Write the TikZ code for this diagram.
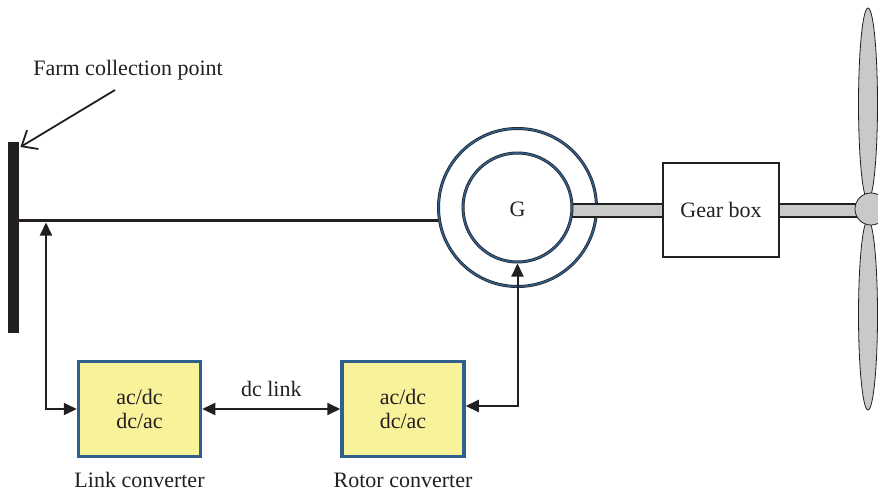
\documentclass[tikz,border=0pt]{standalone}
\usepackage{fontspec}
\setmainfont{Liberation Serif}
\usetikzlibrary{arrows.meta,shapes.geometric}
\definecolor{ink}{HTML}{231F20}
\definecolor{ringblue}{HTML}{2F5F8C}
\definecolor{convfill}{HTML}{F8F29B}
\definecolor{steel}{HTML}{C8C9CB}
\tikzset{
  lbl/.style={font=\fontsize{22}{24}\selectfont, text=ink},
  ring/.style={circle, draw=ink, line width=3pt, inner sep=0pt},
  ringcore/.style={draw=ringblue, line width=1.6pt},
  conv/.style={rectangle, draw=ringblue, line width=3.5pt, fill=convfill,
    minimum width=122pt, minimum height=95pt, align=center, lbl,
    font=\fontsize{22}{24}\selectfont},
  shaft/.style={draw=ink, line width=1.4pt, fill=steel},
  blade/.style={ellipse, draw=ink, line width=0.8pt, fill=steel, inner sep=0pt},
  link/.style={draw=ink, line width=2pt,
    {Triangle[length=13pt,width=12pt]}-{Triangle[length=13pt,width=12pt]}},
}
\begin{document}
\begin{tikzpicture}[x=1pt,y=-1pt]
  \useasboundingbox (0,0) rectangle (878,491);

  % collection busbar
  \node[fill=ink, minimum width=11pt, minimum height=191pt, inner sep=0pt,
        anchor=north west] (bus) at (8,142) {};

  % generator: stator ring
  \node[ring, minimum size=158pt] (genout) at (517.5,207.5) {};
  \draw[ringcore] (genout.center) circle (79pt);

  % shafts
  \draw[shaft] (568,204) rectangle (666,217);
  \draw[shaft] (776,204) rectangle (858,217);

  % generator: rotor
  \node[ring, fill=white, minimum size=109pt, lbl] (gen) at (517.5,207.5) {};
  \draw[ringcore] (gen.center) circle (54.5pt);
  \node[lbl] (glabel) at ([yshift=-2pt]gen.center) {G};

  % gear box
  \node[rectangle, draw=ink, line width=1.4pt, fill=white, minimum width=116pt,
        minimum height=94pt, lbl] (gear) at (721,210) {Gear box};

  % rotor blades and hub
  \node[blade, minimum width=19pt, minimum height=192pt] (bladeup) at (868,104) {};
  \node[blade, minimum width=19pt, minimum height=190pt] (bladedown) at (868,315) {};
  \node[circle, draw=ink, line width=0.8pt, fill=steel, minimum size=32pt,
        inner sep=0pt] (hub) at (871,209) {};

  % stator connection to the busbar
  \draw[draw=ink, line width=3pt] (genout.189.3) -- (genout.189.3 -| bus.east);
  \coordinate (tap) at (46,222.5);

  % converters
  \node[conv] (linkc) at (139.5,409) {ac/dc\\dc/ac};
  \node[conv] (rotorc) at (403,409) {ac/dc\\dc/ac};
  \node[lbl] (linklbl) at (139.5,480) {Link converter};
  \node[lbl] (rotorlbl) at (403,480) {Rotor converter};

  % power paths
  \draw[link] (tap) |- (linkc.west);
  \draw[link] (linkc.east) -- node[lbl, above=8pt] (dclbl) {dc link} (rotorc.west);
  \draw[link] ([yshift=3pt]rotorc.east) -| (gen.south);

  % collection point callout
  \node[lbl] (farm) at (128,70) {Farm collection point};
  \coordinate (farmtail) at (115,90);
  \draw[draw=ink, line width=1.8pt, -{Straight Barb[length=13pt,width=22pt]}]
    (farmtail) -- ([shift={(1pt,-5pt)}]bus.north east);
\end{tikzpicture}
\end{document}
